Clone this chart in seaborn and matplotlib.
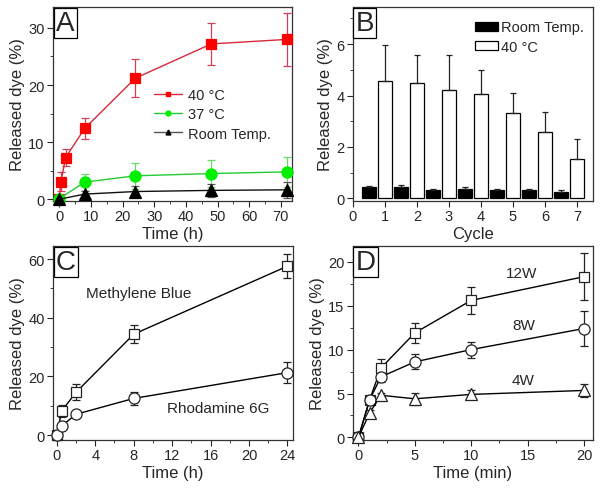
"""Dye release figure: four panels (A-D)."""

import matplotlib

matplotlib.use("Agg")
import matplotlib.pyplot as plt
import numpy as np
import pandas as pd
import seaborn as sns
from matplotlib.lines import Line2D
from matplotlib.patches import Patch
from matplotlib.ticker import MultipleLocator

# --- Panel A: release vs time at different temperatures ---
time_a_40 = [0, 0.5, 2, 8, 24, 48, 72]
dye_a_40 = [0, 3.1, 7.3, 12.4, 21.2, 27.2, 28.0]
err_a_40 = [0, 1.7, 1.5, 1.9, 3.3, 3.7, 4.7]
time_a_37 = [0, 8, 24, 48, 72]
dye_a_37 = [0.1, 3.0, 4.1, 4.5, 4.8]
err_a_37 = [0.1, 1.5, 2.3, 2.4, 2.6]
time_a_rt = [0, 8, 24, 48, 72]
dye_a_rt = [0, 0.9, 1.35, 1.55, 1.65]
err_a_rt = [0.1, 0.5, 1.0, 1.2, 1.45]

# --- Panel B: cycling ---
cycles = [1, 2, 3, 4, 5, 6, 7]
dye_b_rt = [0.43, 0.46, 0.33, 0.36, 0.31, 0.31, 0.26]
err_b_rt = [0.06, 0.05, 0.05, 0.08, 0.04, 0.04, 0.05]
dye_b_40 = [4.55, 4.50, 4.23, 4.07, 3.32, 2.57, 1.55]
err_b_40 = [1.40, 1.07, 1.36, 0.92, 0.79, 0.78, 0.75]

# --- Panel C: different dyes ---
time_c = [0, 0.5, 2, 8, 24]
dye_c_mb = [0, 8.2, 14.6, 34.4, 57.6]
err_c_mb = [0, 2.0, 2.8, 3.0, 4.0]
dye_c_r6g = [0, 3.1, 7.1, 12.5, 21.3]
err_c_r6g = [0, 0.8, 0.6, 2.3, 3.6]

# --- Panel D: different powers ---
time_d = [0, 1, 2, 5, 10, 20]
dye_d_12w = [0, 4.3, 7.9, 11.9, 15.6, 18.3]
err_d_12w = [0, 0.4, 1.0, 1.15, 1.5, 2.7]
dye_d_8w = [0, 4.3, 6.9, 8.6, 10.0, 12.4]
err_d_8w = [0, 0.3, 0.6, 0.85, 0.9, 1.95]
dye_d_4w = [0, 2.8, 4.8, 4.4, 4.9, 5.35]
err_d_4w = [0, 0.3, 0.3, 0.7, 0.5, 0.7]

sns.set_style("ticks")
plt.rcParams["font.family"] = ["Liberation Sans", "DejaVu Sans"]
plt.rcParams["axes.linewidth"] = 0.9
plt.rcParams["xtick.major.size"] = 4
plt.rcParams["ytick.major.size"] = 4
plt.rcParams["xtick.minor.size"] = 2.5
plt.rcParams["ytick.minor.size"] = 2.5
plt.rcParams["xtick.labelsize"] = 10.5
plt.rcParams["ytick.labelsize"] = 10.5

fig = plt.figure(figsize=(6.02, 4.89), dpi=100)
ax_a = fig.add_axes([0.088, 0.587, 0.397, 0.397])
ax_b = fig.add_axes([0.586, 0.587, 0.399, 0.397])
ax_c = fig.add_axes([0.088, 0.098, 0.399, 0.397])
ax_d = fig.add_axes([0.586, 0.098, 0.399, 0.397])


def line_with_err(ax, x, y, err, marker, line_color, face, edge, err_color, ms):
    df = pd.DataFrame({"x": x, "y": y})
    sns.lineplot(data=df, x="x", y="y", ax=ax, color=line_color, lw=1.0,
                 marker=marker, markersize=ms, markerfacecolor=face,
                 markeredgecolor=edge, markeredgewidth=0.9, errorbar=None,
                 zorder=3)
    ax.errorbar(x, y, yerr=err, fmt="none", ecolor=err_color, elinewidth=0.9,
                capsize=3, capthick=0.9, zorder=2)


def panel_letter(ax, letter):
    ax.text(0.012, 0.985, letter, transform=ax.transAxes, fontsize=20,
            ha="left", va="top", zorder=10,
            bbox=dict(boxstyle="square,pad=0.08", fc="white", ec="black", lw=0.9))


def finish(ax, xlabel):
    ax.set_xlabel(xlabel, fontsize=12, labelpad=2)
    ax.set_ylabel("Released dye (%)", fontsize=12, labelpad=2)
    ax.tick_params(which="both", top=False, right=False, direction="out", pad=2)
    for s in ax.spines.values():
        s.set_visible(True)
        s.set_color("#333333")


# Panel A
line_with_err(ax_a, time_a_40, dye_a_40, err_a_40, "s", "#d42a3a", "#ff0000",
              "#ff0000", "#d0405a", 7)
line_with_err(ax_a, time_a_37, dye_a_37, err_a_37, "o", "#22cc33", "#00ee00",
              "#00ee00", "#66dd66", 8)
line_with_err(ax_a, time_a_rt, dye_a_rt, err_a_rt, "^", "#111111", "#000000",
              "#000000", "#555555", 8)
ax_a.set_xlim(-2, 73.5)
ax_a.set_ylim(-0.3, 33.7)
ax_a.xaxis.set_major_locator(MultipleLocator(10))
ax_a.xaxis.set_minor_locator(MultipleLocator(5))
ax_a.yaxis.set_major_locator(MultipleLocator(10))
ax_a.yaxis.set_minor_locator(MultipleLocator(5))
handles_a = [
    Line2D([], [], color="#d42a3a", lw=1, marker="s", ms=3.5, mfc="#ff0000", mec="#ff0000"),
    Line2D([], [], color="#22cc33", lw=1, marker="o", ms=3.5, mfc="#00ee00", mec="#00ee00"),
    Line2D([], [], color="#555555", lw=1, marker="^", ms=3.5, mfc="black", mec="black"),
]
ax_a.legend(handles_a, ["40 \u00b0C", "37 \u00b0C", "Room Temp."], loc="upper left",
            bbox_to_anchor=(0.40, 0.61), frameon=False, fontsize=10.5,
            handlelength=1.9, handletextpad=0.4, labelspacing=0.35,
            borderaxespad=0)
panel_letter(ax_a, "A")
finish(ax_a, "Time (h)")

# Panel B
bar_w = 0.43
df_rt = pd.DataFrame({"x": np.array(cycles) - 0.5, "y": dye_b_rt})
df_40 = pd.DataFrame({"x": np.array(cycles, dtype=float), "y": dye_b_40})
sns.barplot(data=df_rt, x="x", y="y", native_scale=True, width=bar_w,
            color="black", edgecolor="black", saturation=1, errorbar=None,
            linewidth=0.9, ax=ax_b)
sns.barplot(data=df_40, x="x", y="y", native_scale=True, width=bar_w,
            color="white", edgecolor="black", saturation=1, errorbar=None,
            linewidth=0.9, ax=ax_b)
ax_b.errorbar(df_rt["x"], dye_b_rt, yerr=[np.zeros(len(cycles)), err_b_rt],
              fmt="none", ecolor="#222222", elinewidth=0.9, capsize=2.5,
              capthick=0.9)
ax_b.errorbar(df_40["x"], dye_b_40, yerr=[np.zeros(len(cycles)), err_b_40],
              fmt="none", ecolor="#222222", elinewidth=0.9, capsize=2.5,
              capthick=0.9)
ax_b.set_xlim(0, 7.5)
ax_b.set_ylim(-0.1, 7.45)
ax_b.xaxis.set_major_locator(MultipleLocator(1))
ax_b.yaxis.set_major_locator(MultipleLocator(2))
ax_b.yaxis.set_minor_locator(MultipleLocator(1))
handles_b = [Patch(fc="black", ec="black", lw=0.9),
             Patch(fc="white", ec="black", lw=0.9)]
ax_b.legend(handles_b, ["Room Temp.", "40 \u00b0C"], loc="upper right",
            bbox_to_anchor=(1.0, 0.975), frameon=False, fontsize=10.5,
            handlelength=1.6, handleheight=0.55, handletextpad=0.2,
            labelspacing=0.35, borderaxespad=0.2)
panel_letter(ax_b, "B")
finish(ax_b, "Cycle")

# Panel C
line_with_err(ax_c, time_c, dye_c_mb, err_c_mb, "s", "black", "white", "#222222",
              "#222222", 7)
line_with_err(ax_c, time_c, dye_c_r6g, err_c_r6g, "o", "black", "white", "#222222",
              "#222222", 8)
ax_c.set_xlim(-0.4, 24.6)
ax_c.set_ylim(-1.7, 64.5)
ax_c.xaxis.set_major_locator(MultipleLocator(4))
ax_c.xaxis.set_minor_locator(MultipleLocator(2))
ax_c.yaxis.set_major_locator(MultipleLocator(20))
ax_c.yaxis.set_minor_locator(MultipleLocator(10))
ax_c.text(8.5, 48.5, "Methylene Blue", fontsize=11, ha="center", va="center")
ax_c.text(16.8, 9.2, "Rhodamine 6G", fontsize=11, ha="center", va="center")
panel_letter(ax_c, "C")
finish(ax_c, "Time (h)")

# Panel D
line_with_err(ax_d, time_d, dye_d_12w, err_d_12w, "s", "black", "white", "#222222",
              "#222222", 7)
line_with_err(ax_d, time_d, dye_d_8w, err_d_8w, "o", "black", "white", "#222222",
              "#222222", 8)
line_with_err(ax_d, time_d, dye_d_4w, err_d_4w, "^", "black", "white", "#222222",
              "#222222", 8)
ax_d.set_xlim(-0.5, 20.8)
ax_d.set_ylim(-0.3, 21.8)
ax_d.xaxis.set_major_locator(MultipleLocator(5))
ax_d.xaxis.set_minor_locator(MultipleLocator(2.5))
ax_d.yaxis.set_major_locator(MultipleLocator(5))
ax_d.yaxis.set_minor_locator(MultipleLocator(2.5))
ax_d.text(14.5, 18.7, "12W", fontsize=11, ha="center", va="center")
ax_d.text(14.7, 12.8, "8W", fontsize=11, ha="center", va="center")
ax_d.text(14.6, 6.5, "4W", fontsize=11, ha="center", va="center")
panel_letter(ax_d, "D")
finish(ax_d, "Time (min)")

for ax in (ax_a, ax_c, ax_d):
    for ln in ax.lines:
        ln.set_clip_on(False)

fig.savefig("out.png", dpi=100)
